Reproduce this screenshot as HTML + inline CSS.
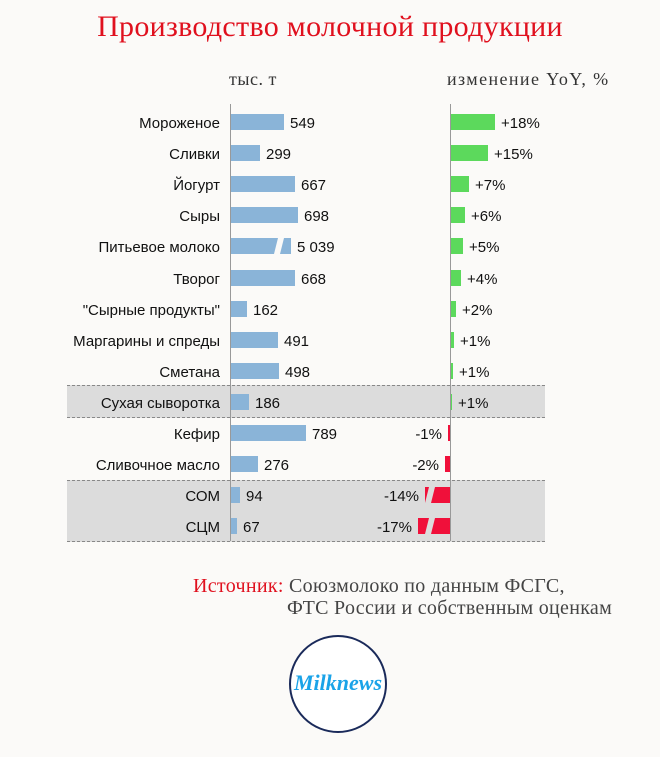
<!DOCTYPE html>
<html><head><meta charset="utf-8"><style>
body{margin:0;background:#fbfaf8;width:660px;height:757px;overflow:hidden;position:relative;font-family:"Liberation Sans",Arial,sans-serif}
.a{position:absolute}
.t{font-size:15px;color:#111;line-height:16px;white-space:nowrap;margin-top:2px}
.l{right:440px;text-align:right}
.b{background:#8ab4d8;height:16px}
.g{background:#5cd95c;height:16px}
.r{background:#f0103a;height:16px}
.band{left:67px;width:478px;background:#dcdcdc;border-top:1.5px dashed #888;border-bottom:1.5px dashed #888}
.s{font-family:"Liberation Serif",serif;white-space:nowrap}
</style></head><body>
<div class="a s" style="left:0;width:660px;text-align:center;top:10px;font-size:30px;color:#e0101e;letter-spacing:0.3px">Производство молочной продукции</div>
<div class="a s" style="left:229px;top:69px;font-size:18px;color:#333;letter-spacing:0.5px">тыс. т</div>
<div class="a s" style="left:447px;top:69px;font-size:18px;color:#333;letter-spacing:1.4px">изменение YoY, %</div>
<div class="a band" style="top:385px;height:31px"></div>
<div class="a band" style="top:480px;height:60px"></div>
<div class="a" style="left:230px;top:104px;width:1px;height:437px;background:#999"></div>
<div class="a" style="left:450px;top:104px;width:1px;height:437px;background:#999"></div>
<div id="rows"></div>
<script>
var d=[["Мороженое",549,53,18,44],["Сливки",299,29,15,37],["Йогурт",667,64,7,18],["Сыры",698,67,6,14],["Питьевое молоко","5 039",60,5,12],["Творог",668,64,4,10],["\"Сырные продукты\"",162,16,2,5],["Маргарины и спреды",491,47,1,3],["Сметана",498,48,1,2],["Сухая сыворотка",186,18,1,1],["Кефир",789,75,-1,2],["Сливочное масло",276,27,-2,5],["СОМ",94,9,-14,25],["СЦМ",67,6,-17,32]];
var h="";
d.forEach(function(r,i){var y=114+i*31.1;
h+='<div class="a t l" style="top:'+y+'px">'+r[0]+'</div>';
h+='<div class="a b" style="left:231px;top:'+y+'px;width:'+r[2]+'px"></div>';
h+='<div class="a t" style="left:'+(237+r[2])+'px;top:'+y+'px">'+r[1]+'</div>';
if(r[3]>0){h+='<div class="a g" style="left:451px;top:'+y+'px;width:'+r[4]+'px"></div><div class="a t" style="left:'+(457+r[4])+'px;top:'+y+'px">+'+r[3]+'%</div>';}
else{h+='<div class="a r" style="left:'+(450-r[4])+'px;top:'+y+'px;width:'+r[4]+'px"></div><div class="a t" style="right:'+(216+r[4])+'px;top:'+y+'px">'+r[3]+'%</div>';}
});
document.getElementById("rows").innerHTML=h;
</script>
<svg class="a" style="left:0;top:0" width="660" height="757">
<polygon points="278,238 284,238 280,254 274,254" fill="#fbfaf8"/>
<polygon points="429,487 435,487 431,503 425,503" fill="#dcdcdc"/>
<polygon points="429,518 435,518 431,534 425,534" fill="#dcdcdc"/>
</svg>
<div class="a s" style="left:193px;top:575px;font-size:20px;color:#444;line-height:22px;letter-spacing:0.3px"><span style="color:#e0101e">Источник:</span> Союзмолоко по данным ФСГС,</div>
<div class="a s" style="left:287px;top:597px;font-size:20px;color:#444;line-height:22px;letter-spacing:0.3px">ФТС России и собственным оценкам</div>
<div class="a" style="left:289px;top:635px;width:94px;height:94px;border:2px solid #1a2a5a;border-radius:50%;background:#fff"></div>
<div class="a" style="left:289px;top:670px;width:98px;text-align:center;font-family:'Liberation Serif',serif;font-style:italic;font-weight:bold;font-size:22px;color:#1aa3e8">Milknews</div>
</body></html>
